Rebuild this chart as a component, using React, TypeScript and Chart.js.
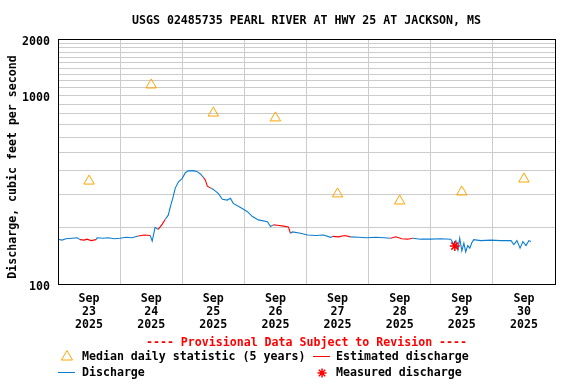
import React, { useEffect, useRef } from 'react';
import { Chart, registerables } from 'chart.js';

Chart.register(...registerables);

const TITLE = 'USGS 02485735 PEARL RIVER AT HWY 25 AT JACKSON, MS';
const Y_TITLE = 'Discharge, cubic feet per second';
const PROVISIONAL = '---- Provisional Data Subject to Revision ----';
const MONTH = 'Sep';
const YEAR = '2025';
const DAY_LABELS = ['23', '24', '25', '26', '27', '28', '29', '30'];

// hours since Sep 23 00:00
const medianHours = [12, 36, 60, 84, 108, 132, 156, 180];
const medianValues = [352, 1140, 809, 762, 301, 276, 308, 361];

const measuredHours = [153.3];
const measuredValues = [159];

const dischargeHours = [
  0, 1.5, 3.1, 5.4, 7.4, 8.5, 10.1, 11.2, 12.8, 14.7, 15.1, 17.4, 19.4, 21.7, 24, 26.3, 28.6,
  31, 33.3, 35.6, 36.4, 37.5, 38.7, 40.3, 41.4, 42.6, 43.4, 44.5, 45.3, 46.5, 48, 49.2, 50.3,
  52.3, 53.8, 55, 56.1, 56.9, 57.7, 59.2, 60, 61.9, 63.5, 65.4, 66.6, 67.7, 70.5, 73.2, 75.1,
  77.4, 80.9, 82.1, 83.2, 84.8, 87.1, 89, 89.8, 90.6, 93.7, 96.4, 99.5, 102.6, 105.3, 106.1,
  108.4, 110.7, 113, 116.1, 119.2, 122.7, 125.8, 128.5, 130.5, 132.8, 135.1, 137, 140.1, 144,
  147.9, 151.7, 152.9, 153.7, 154.5, 155.2, 156, 156.8, 157.5, 158.3, 159.1, 159.9, 160.6,
  163.3, 167.2, 171.1, 175, 176.1, 177.3, 178.5, 179.6, 180.8, 181.9, 182.7,
];
const dischargeValues = [
  173, 171, 174, 175, 176, 172, 171, 173, 170, 172, 176, 175, 176, 174, 175, 177, 176,
  180, 182, 181, 169, 200, 195, 208, 220, 232, 257, 291, 323, 348, 364, 390, 399,
  400, 395, 384, 369, 357, 331, 322, 318, 303, 282, 279, 285, 268, 255, 242, 228,
  219, 214, 202, 206, 205, 203, 201, 186, 189, 186, 182, 181, 182, 177, 179,
  178, 181, 178, 177, 176, 177, 176, 175, 178, 174, 173, 175, 173, 173,
  174, 173, 163, 170, 152, 175, 150, 165, 148, 160, 155, 166, 172,
  170, 171, 170, 170, 162, 170, 155, 168, 160, 170, 168,
];
const estimatedFlags = [
  0, 0, 0, 0, 0, 1, 1, 1, 1, 1, 0, 0, 0, 0, 0, 0, 0,
  1, 1, 1, 0, 0, 1, 1, 1, 0, 0, 0, 0, 0, 0, 0, 0,
  0, 0, 0, 1, 1, 1, 1, 0, 0, 0, 0, 0, 0, 0, 0, 0,
  0, 0, 0, 1, 1, 1, 1, 1, 0, 0, 0, 0, 0, 0, 1,
  1, 1, 1, 0, 0, 0, 0, 1, 1, 1, 1, 1, 0, 0,
  0, 0, 0, 0, 0, 0, 0, 0, 0, 0, 0, 0, 0,
  0, 0, 0, 0, 0, 0, 0, 0, 0, 0, 0,
];

const yTickValues = [100, 200, 300, 400, 500, 600, 700, 800, 900, 1000, 1100, 1200, 1300, 1400, 1500, 1600, 1700, 1800, 1900, 2000];
const yLabelled = [100, 1000, 2000];

const BLUE = '#0b7dd0';
const RED = '#ff0000';
const ORANGE = '#ffa500';
const GRID = '#cccccc';
const FONT_FAMILY = '"DejaVu Sans Mono", monospace';
const FONT_SIZE = 11.6;

function drawTriangle(ctx: CanvasRenderingContext2D, x: number, y: number) {
  ctx.save();
  ctx.strokeStyle = ORANGE;
  ctx.lineWidth = 1;
  ctx.beginPath();
  ctx.moveTo(x, y - 5.5);
  ctx.lineTo(x + 5.5, y + 4);
  ctx.lineTo(x - 5.5, y + 4);
  ctx.closePath();
  ctx.stroke();
  ctx.restore();
}

function drawStar(ctx: CanvasRenderingContext2D, x: number, y: number, r: number) {
  ctx.save();
  ctx.strokeStyle = RED;
  ctx.lineWidth = 1.5;
  ctx.beginPath();
  for (let i = 0; i < 4; i++) {
    const a = (i * Math.PI) / 4;
    ctx.moveTo(x - r * Math.cos(a), y - r * Math.sin(a));
    ctx.lineTo(x + r * Math.cos(a), y + r * Math.sin(a));
  }
  ctx.stroke();
  ctx.restore();
}

const decorPlugin = {
  id: 'decor',
  afterDraw(chart: any) {
    const { ctx, chartArea } = chart;
    const font = `bold ${FONT_SIZE}px ${FONT_FAMILY}`;
    ctx.save();
    // frame
    ctx.strokeStyle = '#000';
    ctx.lineWidth = 1;
    ctx.strokeRect(chartArea.left + 0.5, chartArea.top + 0.5, chartArea.right - chartArea.left, chartArea.bottom - chartArea.top);
    const cx = (chartArea.left + chartArea.right) / 2;
    ctx.font = font;
    ctx.textBaseline = 'middle';
    // title
    ctx.fillStyle = '#000';
    ctx.textAlign = 'center';
    ctx.fillText(TITLE, cx, 21);
    // y-axis title
    ctx.save();
    ctx.translate(13, 167);
    ctx.rotate(-Math.PI / 2);
    ctx.fillText(Y_TITLE, 0, 0);
    ctx.restore();
    // provisional
    ctx.fillStyle = RED;
    ctx.fillText(PROVISIONAL, cx, 343);
    // legend
    ctx.textAlign = 'left';
    ctx.fillStyle = '#000';
    drawTriangle(ctx, 67, 356);
    ctx.fillText('Median daily statistic (5 years)', 82, 357);
    ctx.strokeStyle = RED;
    ctx.lineWidth = 1;
    ctx.beginPath();
    ctx.moveTo(313, 356.5);
    ctx.lineTo(330, 356.5);
    ctx.stroke();
    ctx.fillText('Estimated discharge', 336, 357);
    ctx.strokeStyle = BLUE;
    ctx.beginPath();
    ctx.moveTo(58, 372.5);
    ctx.lineTo(75, 372.5);
    ctx.stroke();
    ctx.fillText('Discharge', 82, 373);
    drawStar(ctx, 322, 373, 4.5);
    ctx.fillText('Measured discharge', 336, 373);
    ctx.restore();
  },
};

export default function App() {
  const ref = useRef<HTMLCanvasElement>(null);
  useEffect(() => {
    document.body.style.margin = '0';
    const canvas = ref.current;
    if (!canvas) return;
    const font = { family: FONT_FAMILY, size: FONT_SIZE, weight: 'bold' as const, lineHeight: '13px' };
    const chart = new Chart(canvas, {
      type: 'line',
      data: {
        datasets: [
          {
            label: 'Measured discharge',
            data: measuredHours.map((h, i) => ({ x: h, y: measuredValues[i] })),
            showLine: false,
            pointStyle: 'star',
            pointRadius: 5,
            pointBorderColor: RED,
            pointBorderWidth: 1.5,
            borderColor: RED,
            backgroundColor: RED,
          },
          {
            label: 'Median daily statistic (5 years)',
            data: medianHours.map((h, i) => ({ x: h, y: medianValues[i] })),
            showLine: false,
            pointStyle: 'triangle',
            pointRadius: 6,
            pointBorderColor: ORANGE,
            pointBackgroundColor: 'rgba(0,0,0,0)',
            pointBorderWidth: 1,
            borderColor: ORANGE,
          },
          {
            label: 'Discharge',
            data: dischargeHours.map((h, i) => ({ x: h, y: dischargeValues[i] })),
            borderColor: BLUE,
            borderWidth: 1.1,
            pointRadius: 0,
            tension: 0,
            fill: false,
            segment: {
              borderColor: (c: any) =>
                estimatedFlags[c.p0DataIndex] && estimatedFlags[c.p1DataIndex] ? RED : BLUE,
            },
          },
        ],
      },
      options: {
        responsive: false,
        animation: false,
        layout: { padding: { top: 39, right: 21, left: 0, bottom: 0 } },
        plugins: { legend: { display: false }, tooltip: { enabled: false }, title: { display: false } },
        scales: {
          x: {
            type: 'linear',
            min: 0,
            max: 192,
            afterBuildTicks: (s: any) => {
              const t = [];
              for (let v = 0; v <= 192; v += 12) t.push({ value: v });
              s.ticks = t;
            },
            afterFit: (s: any) => {
              s.height = 100;
            },
            ticks: {
              autoSkip: false,
              maxRotation: 0,
              minRotation: 0,
              padding: 8,
              color: '#000',
              font,
              callback: (v: any) => {
                const n = Number(v);
                if (n % 24 !== 12) return '';
                return [MONTH, DAY_LABELS[Math.floor(n / 24)], YEAR];
              },
            },
            grid: {
              drawTicks: false,
              color: (c: any) => (c.tick && c.tick.value % 24 === 0 ? GRID : 'rgba(0,0,0,0)'),
              lineWidth: 1,
            },
            border: { display: false },
          },
          y: {
            type: 'logarithmic',
            min: 100,
            max: 2000,
            afterBuildTicks: (s: any) => {
              s.ticks = yTickValues.map((v) => ({ value: v }));
            },
            afterFit: (s: any) => {
              s.width = 58;
            },
            ticks: {
              autoSkip: false,
              padding: 8,
              labelOffset: 2.5,
              color: '#000',
              font,
              callback: (v: any) => (yLabelled.includes(Number(v)) ? String(v) : ''),
            },
            grid: { drawTicks: false, color: GRID, lineWidth: 1 },
            border: { display: false },
            title: { display: false },
          },
        },
      },
      plugins: [decorPlugin],
    });
    return () => chart.destroy();
  }, []);
  return (
    <div style={{ width: 576, height: 384, position: 'relative', background: '#fff' }}>
      <canvas ref={ref} width={576} height={384} style={{ display: 'block' }} />
    </div>
  );
}
